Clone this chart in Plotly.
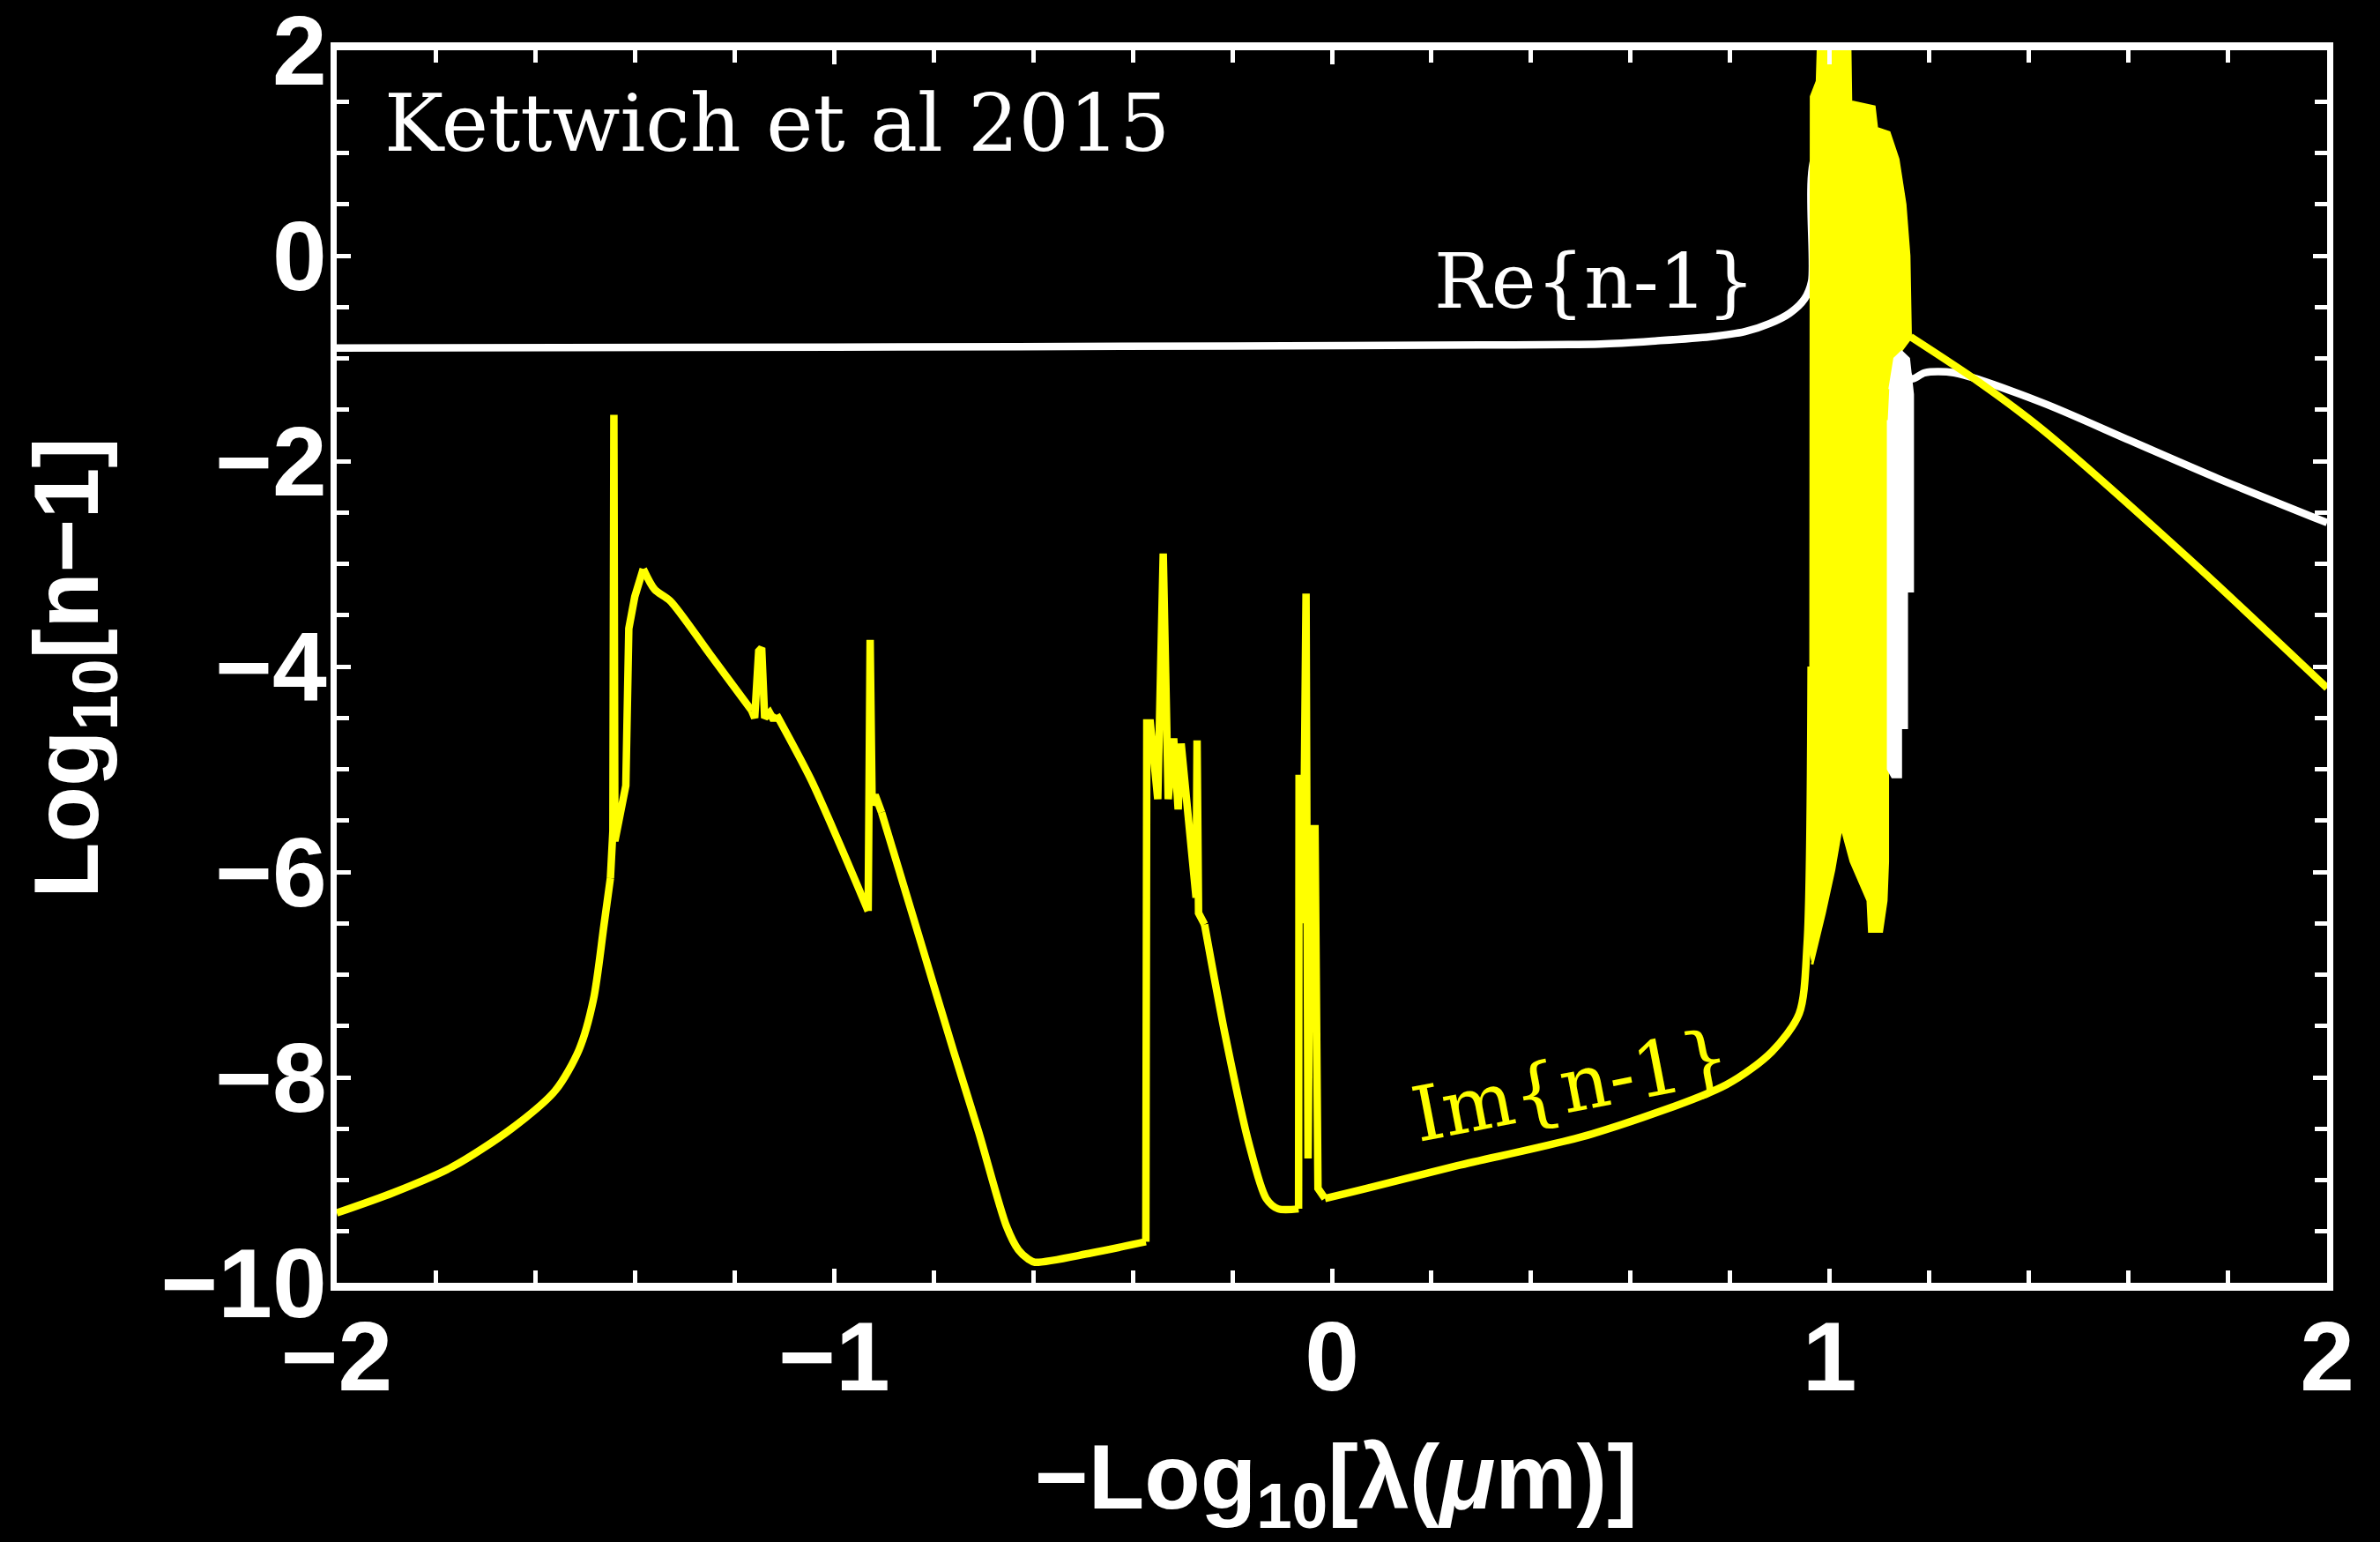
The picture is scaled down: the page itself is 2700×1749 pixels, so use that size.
import plotly.graph_objects as go

# ---------------- data ----------------
# Re{n-1} curve (white)
re_x = [-2.0, -1.0, -0.2, 0.3, 0.54, 0.65, 0.76, 0.83, 0.88, 0.92, 0.95, 0.964, 0.975,
        1.05, 1.10, 1.14, 1.165, 1.191, 1.25, 1.427, 1.604, 1.781, 2.0]
re_y = [-0.90, -0.89, -0.88, -0.87, -0.86, -0.83, -0.79, -0.74, -0.66, -0.56, -0.42, -0.25, 1.0,
        1.0, -0.5, -0.95, -1.20, -1.14, -1.14, -1.43, -1.80, -2.17, -2.60]

# white resonance region visible inside the band
re_band_x = [1.117, 1.117, 1.126, 1.144, 1.144, 1.156, 1.156, 1.168, 1.168, 1.160, 1.145, 1.130, 1.120]
re_band_y = [-1.6, -5.0, -5.08, -5.08, -4.60, -4.60, -3.27, -3.27, -1.35, -1.00, -0.93, -1.00, -1.30]

# Im{n-1} curve (yellow)
im_x = [-2.000, -1.885, -1.767, -1.649, -1.561, -1.513, -1.484, -1.463, -1.450, -1.445,
        -1.443, -1.441, -1.419, -1.413, -1.401, -1.384, -1.361, -1.330, -1.250, -1.166,
        -1.160, -1.152, -1.146, -1.140, -1.130, -1.122, -1.116, -1.047, -0.990, -0.932,
        -0.928, -0.924, -0.918, -0.905, -0.824, -0.760, -0.710, -0.654, -0.630, -0.610, -0.597,
        -0.484, -0.374, -0.372, -0.365, -0.350, -0.339, -0.329, -0.318, -0.309, -0.303,
        -0.286, -0.273, -0.271, -0.268, -0.256, -0.214, -0.167, -0.132, -0.108, -0.067,
        -0.066, -0.060, -0.058, -0.052, -0.048, -0.042, -0.034, -0.028, -0.014, 0.070,
        0.252, 0.523, 0.793, 0.884, 0.939, 0.955, 0.963,
        1.163, 1.300, 1.427, 1.722, 2.000]
im_y = [-9.32, -9.12, -8.87, -8.50, -8.13, -7.73, -7.24, -6.52, -6.06, -5.60,
        -1.55, -5.70, -5.16, -3.63, -3.32, -3.05, -3.25, -3.36, -3.88, -4.43,
        -4.50, -3.85, -3.82, -4.50, -4.45, -4.52, -4.47, -5.10, -5.72, -6.38,
        -3.74, -5.35, -5.25, -5.42, -6.72, -7.75, -8.53, -9.45, -9.68, -9.77, -9.80,
        -9.71, -9.60, -4.55, -4.55, -5.29, -2.90, -5.29, -4.70, -5.39, -4.75,
        -5.68, -6.25, -4.72, -6.40, -6.51, -7.60, -8.64, -9.18, -9.28, -9.28,
        -5.09, -5.09, -6.50, -3.29, -8.79, -5.58, -5.58, -9.08, -9.18, -9.08,
        -8.86, -8.55, -8.07, -7.75, -7.38, -6.70, -4.00,
        -0.79, -1.23, -1.69, -2.95, -4.21]

# x-ranges of the Im curve: smooth stretches and sharp absorption-line stretches
im_pieces = [(-2.000, -1.450, "spline"), (-1.450, -1.384, "linear"),
             (-1.384, -1.166, "spline"), (-1.166, -1.116, "linear"),
             (-1.116, -0.932, "spline"), (-0.932, -0.905, "linear"),
             (-0.905, -0.374, "spline"), (-0.374, -0.256, "linear"),
             (-0.256, -0.067, "spline"), (-0.067, -0.014, "linear"),
             (-0.014, 0.963, "spline"), (1.163, 2.000, "spline")]

# dense oscillating band of Im{n-1} near lambda ~ 0.1 um (envelope)
band_x = [0.955, 0.962, 0.963, 0.975, 0.980, 1.040, 1.043, 1.090, 1.095, 1.120, 1.138, 1.152,
          1.160, 1.163, 1.140, 1.117, 1.117, 1.114, 1.105, 1.080, 1.077, 1.043, 1.024, 1.009,
          0.990, 0.965]
band_y = [-6.7, -4.0, 1.55, 1.70, 2.5, 2.5, 1.50, 1.45, 1.24, 1.20, 0.94, 0.50,
          0.00, -0.80, -0.95, -1.40, -5.90, -6.28, -6.58, -6.58, -6.28, -5.90, -5.56, -5.98,
          -6.40, -6.90]

x_ticks = [-2, -1, 0, 1, 2]
y_ticks = [2, 0, -2, -4, -6, -8, -10]

YELLOW = "#FFFF00"
WHITE = "#FFFFFF"
LW = 8.5

fig = go.Figure()
fig.add_trace(go.Scatter(x=re_x, y=re_y, mode="lines",
                         line=dict(color=WHITE, width=LW, shape="spline", smoothing=0.8),
                         hoverinfo="skip"))
for lo, hi, shape in im_pieces:
    px = [x for x in im_x if lo <= x <= hi]
    py = [y for x, y in zip(im_x, im_y) if lo <= x <= hi]
    fig.add_trace(go.Scatter(x=px, y=py, mode="lines",
                             line=dict(color=YELLOW, width=LW, shape=shape, smoothing=0.8),
                             hoverinfo="skip"))
fig.add_trace(go.Scatter(x=band_x, y=band_y, mode="lines", fill="toself",
                         fillcolor=YELLOW, line=dict(color=YELLOW, width=3),
                         hoverinfo="skip"))
fig.add_trace(go.Scatter(x=re_band_x, y=re_band_y, mode="lines", fill="toself",
                         fillcolor=WHITE, line=dict(color=WHITE, width=2),
                         hoverinfo="skip"))

tickfont = dict(family="Liberation Sans, Arial, sans-serif", size=111, color=WHITE,
                weight="bold")

fig.update_layout(
    width=2700, height=1749,
    margin=dict(l=382, r=60, t=57, b=294, autoexpand=False),
    paper_bgcolor="black", plot_bgcolor="black",
    showlegend=False,
    xaxis=dict(range=[-2, 2], tickvals=x_ticks, ticks="inside", ticklen=16, tickwidth=5,
               tickcolor=WHITE, showline=True, linecolor=WHITE, linewidth=9,
               mirror="ticks", showgrid=False, zeroline=False, automargin=False,
               tickfont=tickfont, ticklabelstandoff=-20, ticklabeloverflow="allow",
               minor=dict(dtick=0.2, ticks="inside", ticklen=14, tickwidth=5,
                          tickcolor=WHITE, showgrid=False)),
    yaxis=dict(range=[-10, 2], tickvals=y_ticks, ticks="inside", ticklen=16, tickwidth=5,
               tickcolor=WHITE, showline=True, linecolor=WHITE, linewidth=7,
               mirror="ticks", showgrid=False, zeroline=False, automargin=False,
               tickfont=tickfont, ticklabelstandoff=-18, ticklabeloverflow="allow",
               minor=dict(dtick=0.5, ticks="inside", ticklen=14, tickwidth=5,
                          tickcolor=WHITE, showgrid=False)),
)

titlefont = dict(family="Liberation Sans, Arial, sans-serif", size=104, color=WHITE)
fig.add_annotation(xref="paper", yref="paper", x=-0.1324, y=0.4986,
                   text="<b>Log<sub>10</sub>[n−1]</b>", textangle=-90, showarrow=False,
                   xanchor="center", yanchor="middle", font=titlefont)
fig.add_annotation(xref="paper", yref="paper", x=0.502, y=-0.163,
                   text="<b>−Log<sub>10</sub>[λ(<i>μ</i>m)]</b>", showarrow=False,
                   xanchor="center", yanchor="middle", font=titlefont)

serif = "DejaVu Serif, serif"
fig.add_annotation(xref="paper", yref="paper", x=0.023, y=0.941,
                   text="Kettwich et al 2015", showarrow=False,
                   xanchor="left", yanchor="middle",
                   font=dict(family=serif, size=90, color=WHITE))
fig.add_annotation(xref="paper", yref="paper", x=0.632, y=0.8126,
                   text="Re{n-1}", showarrow=False,
                   xanchor="center", yanchor="middle",
                   font=dict(family=serif, size=86, color=WHITE))
fig.add_annotation(xref="paper", yref="paper", x=0.620, y=0.160,
                   text="Im{n-1}", showarrow=False, textangle=-11,
                   xanchor="center", yanchor="middle",
                   font=dict(family=serif, size=86, color=YELLOW))

fig.write_html("out.html", config={"displayModeBar": False},
               post_script="document.body.style.margin='0';")
